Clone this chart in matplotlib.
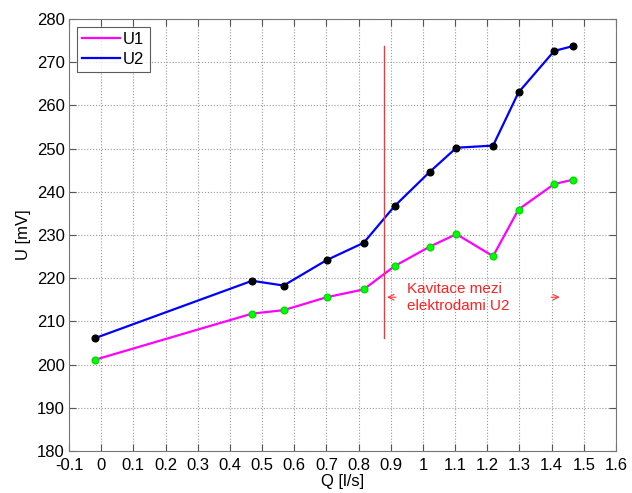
import matplotlib
matplotlib.use("Agg")
import matplotlib.pyplot as plt
import numpy as np

# Measured data
q = [-0.02, 0.469, 0.567, 0.701, 0.816, 0.912, 1.021, 1.104, 1.218, 1.297, 1.408, 1.467]
u1 = [201.1, 211.8, 212.6, 215.6, 217.4, 222.8, 227.3, 230.2, 225.1, 235.9, 241.8, 242.8]
u2 = [206.1, 219.4, 218.3, 224.2, 228.2, 236.7, 244.6, 250.2, 250.7, 263.0, 272.6, 273.75]

cav_q = 0.88
cav_range = [206.1, 273.75]
arrow_u = 215.6
x_ticks = np.round(np.arange(-0.1, 1.61, 0.1), 1)
x_ticklabels = ['-0.1', '0', '0.1', '0.2', '0.3', '0.4', '0.5', '0.6', '0.7', '0.8',
                '0.9', '1', '1.1', '1.2', '1.3', '1.4', '1.5', '1.6']
y_ticks = np.arange(180, 281, 10)

plt.rcParams['font.family'] = ['Liberation Sans', 'DejaVu Sans']

fig = plt.figure(figsize=(6.32, 4.93), dpi=100)
ax = fig.add_axes([69 / 632, 1 - 451 / 493, (616 - 69) / 632, (451 - 19) / 493])

ax.plot(q, u1, color='#ff00ff', lw=1.6, label='U1')
ax.plot(q, u2, color='#0000ff', lw=1.6, label='U2')
ax.plot(q, u1, ls='none', marker='o', ms=4.8, mfc='#00ff00', mec='#00dd00')
ax.plot(q, u2, ls='none', marker='o', ms=4.8, mfc='black', mec='black')

# cavitation marker
ax.plot([cav_q, cav_q], cav_range, color='#ff3333', lw=1.0)
ax.annotate('', xy=(cav_q, arrow_u), xytext=(cav_q + 0.045, arrow_u),
            arrowprops=dict(arrowstyle='->', color='#ff3333', lw=0.8))
ax.annotate('', xy=(1.434, arrow_u), xytext=(1.39, arrow_u),
            arrowprops=dict(arrowstyle='->', color='#ff3333', lw=0.8))
ax.text(0.951, arrow_u, 'Kavitace mezi\nelektrodami U2', color='#ff2020',
        fontsize=11, ha='left', va='center', linespacing=1.25)

ax.set_xlim(-0.1, 1.6)
ax.set_ylim(180, 280)
ax.set_xticks(x_ticks)
ax.set_xticklabels(x_ticklabels)
ax.set_yticks(y_ticks)
ax.tick_params(direction='in', top=True, right=True, labelsize=12, length=5,
               color='#555555')
ax.tick_params(axis='x', pad=5)
ax.tick_params(axis='y', pad=3)
for s in ax.spines.values():
    s.set_color('#777777')
ax.grid(True, ls=':', color='#999999', lw=0.8)

ax.set_xlabel('Q [l/s]', fontsize=12, labelpad=1)
ax.set_ylabel('U [mV]', fontsize=12, labelpad=4)

leg = ax.legend(loc='upper left', fontsize=12, frameon=True, fancybox=False,
                handlelength=2.3, borderpad=0.3, labelspacing=0.3,
                handletextpad=0.2, borderaxespad=0.45)
leg.get_frame().set_edgecolor('#333333')
leg.get_frame().set_linewidth(0.8)

fig.savefig('out.png', dpi=100)
